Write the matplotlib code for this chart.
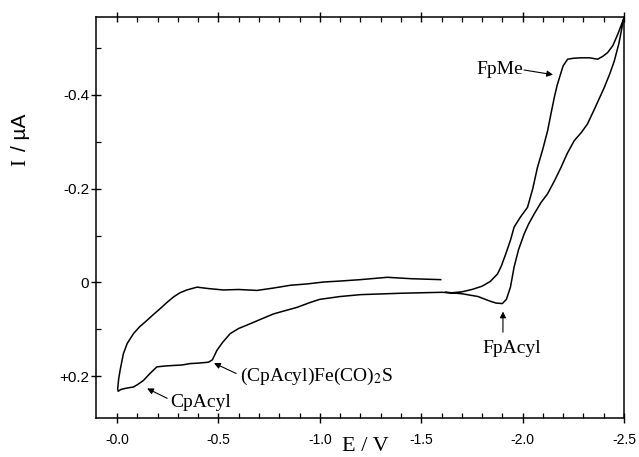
import matplotlib
matplotlib.use("Agg")
import matplotlib.pyplot as plt
import numpy as np

plt.rcParams['font.family'] = ['Liberation Sans', 'DejaVu Sans']
plt.rcParams['mathtext.fontset'] = 'stix'

# potential (V) and current (uA)
E_scan = [-1.62, -1.70, -1.78, -1.84, -1.87, -1.90, -1.92, -1.94, -1.958, -1.98,
          -2.008, -2.03, -2.057, -2.09, -2.123, -2.155, -2.189, -2.22, -2.254, -2.29,
          -2.32, -2.36, -2.403, -2.43, -2.452, -2.475, -2.495, -2.50,
          -2.469, -2.445, -2.419, -2.395, -2.37, -2.33, -2.288, -2.25, -2.222, -2.20,
          -2.189, -2.17, -2.156, -2.14, -2.123, -2.10, -2.073, -2.05, -2.024, -1.99,
          -1.958, -1.94, -1.917, -1.895, -1.876, -1.84, -1.80, -1.75, -1.70, -1.65,
          -1.60, -1.50, -1.40, -1.333, -1.20, -1.10, -1.00, -0.95, -0.888, -0.83,
          -0.772, -0.70, -0.64, -0.60, -0.558, -0.52, -0.492, -0.47, -0.451, -0.40,
          -0.36, -0.32, -0.278, -0.24, -0.196, -0.16, -0.13, -0.10, -0.08, -0.05,
          -0.02, -0.005,
          -0.003, -0.008, -0.015, -0.031, -0.05, -0.081, -0.11, -0.147, -0.18, -0.212,
          -0.245, -0.278, -0.31, -0.344, -0.394, -0.45, -0.524, -0.60, -0.69, -0.77,
          -0.855, -0.94, -1.02, -1.10, -1.20, -1.333, -1.45, -1.596]
I_scan = [0.021, 0.024, 0.030, 0.040, 0.044, 0.045, 0.036, 0.010, -0.033, -0.070,
          -0.104, -0.125, -0.146, -0.170, -0.189, -0.215, -0.245, -0.275, -0.302, -0.320,
          -0.338, -0.375, -0.416, -0.445, -0.472, -0.510, -0.555, -0.564,
          -0.529, -0.505, -0.490, -0.482, -0.476, -0.479, -0.479, -0.478, -0.476, -0.462,
          -0.447, -0.420, -0.394, -0.360, -0.323, -0.285, -0.245, -0.200, -0.160, -0.140,
          -0.118, -0.090, -0.061, -0.035, -0.018, -0.002, 0.008, 0.015, 0.020, 0.022,
          0.021, 0.022, 0.023, 0.024, 0.026, 0.030, 0.036, 0.043, 0.053, 0.060,
          0.067, 0.080, 0.091, 0.098, 0.109, 0.128, 0.145, 0.165, 0.170, 0.172,
          0.173, 0.176, 0.177, 0.178, 0.180, 0.195, 0.209, 0.218, 0.223, 0.225,
          0.228, 0.232,
          0.226, 0.205, 0.187, 0.152, 0.130, 0.109, 0.095, 0.081, 0.068, 0.056,
          0.043, 0.031, 0.022, 0.016, 0.010, 0.013, 0.016, 0.015, 0.017, 0.012,
          0.006, 0.003, -0.001, -0.003, -0.006, -0.011, -0.008, -0.006]

x_ticks = [0.0, -0.5, -1.0, -1.5, -2.0, -2.5]
x_labels = ['-0.0', '-0.5', '-1.0', '-1.5', '-2.0', '-2.5']
y_ticks = [-0.4, -0.2, 0.0, 0.2]
y_labels = ['-0.4', '-0.2', '0', '+0.2']

# label text, text position, arrow tail, arrow tip (E, I)
notes = [
    ('FpMe', (-1.889, -0.455), (-2.007, -0.453), (-2.150, -0.443)),
    ('(CpAcyl)Fe(CO)$_2$S', (-0.607, 0.200), (-0.587, 0.194), (-0.478, 0.172)),
    ('CpAcyl', (-0.414, 0.257), (-0.247, 0.247), (-0.148, 0.226)),
    ('FpAcyl', (-1.948, 0.140), (-1.903, 0.106), (-1.903, 0.062)),
]

fig = plt.figure(figsize=(6.39, 4.57), dpi=100)
ax = fig.add_axes([96/639, 39/457, 528/639, 401/457])

ax.plot(E_scan, I_scan, color='black', lw=1.1)

ax.set_xlim(0.104, -2.5)
ax.set_ylim(0.289, -0.566)

ax.set_xticks(x_ticks)
ax.set_xticklabels(x_labels, fontsize=10)
ax.set_xticks(np.arange(0.0, -2.55, -0.1), minor=True)
ax.set_yticks(y_ticks)
ax.set_yticklabels(y_labels, fontsize=11)
ax.set_yticks([-0.5, -0.3, -0.1, 0.1], minor=True)

ax.tick_params(axis='x', which='major', direction='inout', length=7, width=1, pad=7, top=True)
ax.tick_params(axis='x', which='minor', direction='in', length=3.5, width=0.9, top=True)
ax.tick_params(axis='y', which='major', direction='inout', length=7, width=1, pad=1.5)
ax.tick_params(axis='y', which='minor', direction='in', length=3.5, width=0.9)
for s in ax.spines.values():
    s.set_linewidth(1.1)

for txt, pos, tail, tip in notes:
    ax.annotate('', xy=tip, xytext=tail,
                arrowprops=dict(arrowstyle='-|>', color='black', lw=0.8, mutation_scale=9,
                                shrinkA=0, shrinkB=0))
    ha = 'left' if txt.startswith('(Cp') else 'center'
    ax.text(pos[0], pos[1], txt, ha=ha, va='center', fontsize=14,
            family='Liberation Serif')

fig.text(21/639, 1 - 163/457, 'I', rotation=90, ha='center', va='center',
         fontsize=15, family='Liberation Serif')
fig.text(21/639, 1 - 132/457, '/ µA', rotation=90, ha='center', va='center',
         fontsize=15)
fig.text(365/639, 1/457, 'E / V', ha='center', va='bottom',
         fontsize=16, family='Liberation Serif')

fig.savefig('out.png', dpi=100)
